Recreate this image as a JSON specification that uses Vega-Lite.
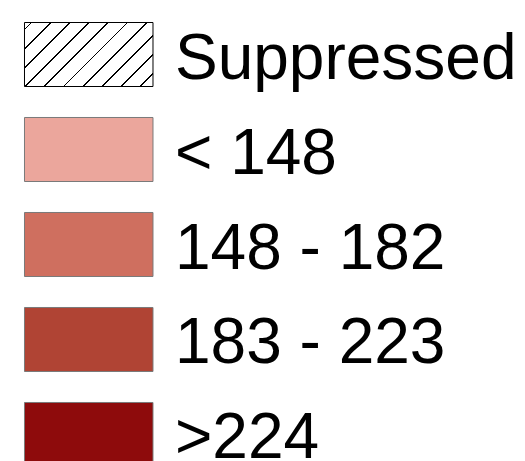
{
  "$schema": "https://vega.github.io/schema/vega-lite/v6.json",
  "width": 525,
  "height": 461,
  "autosize": {"type": "none"},
  "padding": 0,
  "background": "white",
  "config": {"view": {"stroke": null}},
  "data": {
    "values": [
      {"order": 0, "label": "Suppressed", "kind": "suppressed"},
      {"order": 1, "label": "< 148", "kind": "range"},
      {"order": 2, "label": "148 - 182", "kind": "range"},
      {"order": 3, "label": "183 - 223", "kind": "range"},
      {"order": 4, "label": ">224", "kind": "range"}
    ]
  },
  "encoding": {
    "y": {
      "field": "label",
      "type": "nominal",
      "sort": {"field": "order"},
      "axis": null,
      "scale": {"range": [22.5, 466.5], "paddingInner": 0.3263, "paddingOuter": 0}
    }
  },
  "layer": [
    {
      "transform": [{"filter": "datum.kind === 'suppressed'"}],
      "mark": {
        "type": "rect",
        "stroke": "#000000",
        "strokeWidth": 1,
        "fill": {
          "gradient": "linear",
          "x1": 0, "y1": 0, "x2": 1.2003, "y2": 0.5978,
          "stops": [
            {"offset": 0, "color": "#ffffff"},
            {"offset": 0.03143, "color": "#ffffff"}, {"offset": 0.03143, "color": "#000000"}, {"offset": 0.0413, "color": "#000000"}, {"offset": 0.0413, "color": "#ffffff"},
            {"offset": 0.13117, "color": "#ffffff"}, {"offset": 0.13117, "color": "#000000"}, {"offset": 0.14104, "color": "#000000"}, {"offset": 0.14104, "color": "#ffffff"},
            {"offset": 0.23091, "color": "#ffffff"}, {"offset": 0.23091, "color": "#000000"}, {"offset": 0.24078, "color": "#000000"}, {"offset": 0.24078, "color": "#ffffff"},
            {"offset": 0.33065, "color": "#ffffff"}, {"offset": 0.33065, "color": "#000000"}, {"offset": 0.34052, "color": "#000000"}, {"offset": 0.34052, "color": "#ffffff"},
            {"offset": 0.43039, "color": "#ffffff"}, {"offset": 0.43039, "color": "#000000"}, {"offset": 0.44026, "color": "#000000"}, {"offset": 0.44026, "color": "#ffffff"},
            {"offset": 0.53013, "color": "#ffffff"}, {"offset": 0.53013, "color": "#000000"}, {"offset": 0.54, "color": "#000000"}, {"offset": 0.54, "color": "#ffffff"},
            {"offset": 0.62987, "color": "#ffffff"}, {"offset": 0.62987, "color": "#000000"}, {"offset": 0.63974, "color": "#000000"}, {"offset": 0.63974, "color": "#ffffff"},
            {"offset": 0.72961, "color": "#ffffff"}, {"offset": 0.72961, "color": "#000000"}, {"offset": 0.73948, "color": "#000000"}, {"offset": 0.73948, "color": "#ffffff"},
            {"offset": 0.82935, "color": "#ffffff"}, {"offset": 0.82935, "color": "#000000"}, {"offset": 0.83922, "color": "#000000"}, {"offset": 0.83922, "color": "#ffffff"},
            {"offset": 0.92909, "color": "#ffffff"}, {"offset": 0.92909, "color": "#000000"}, {"offset": 0.93896, "color": "#000000"}, {"offset": 0.93896, "color": "#ffffff"},
            {"offset": 1, "color": "#ffffff"}
          ]
        }
      },
      "encoding": {
        "x": {"datum": 0, "type": "quantitative", "axis": null, "scale": {"domain": [-0.19066, 3.89494], "nice": false, "zero": false}},
        "x2": {"datum": 1}
      }
    },
    {
      "transform": [{"filter": "datum.kind === 'range'"}],
      "mark": {"type": "rect", "stroke": "#7a7a7a", "strokeWidth": 1},
      "encoding": {
        "x": {"datum": 0, "type": "quantitative", "axis": null, "scale": {"domain": [-0.19066, 3.89494], "nice": false, "zero": false}},
        "x2": {"datum": 1},
        "fill": {
          "field": "label",
          "type": "nominal",
          "legend": null,
          "scale": {
            "domain": ["< 148", "148 - 182", "183 - 223", ">224"],
            "range": ["#EBA69C", "#CF6F5F", "#B04434", "#8E0B0C"]
          }
        }
      }
    },
    {
      "mark": {
        "type": "text",
        "align": "left",
        "baseline": "alphabetic",
        "dy": 24,
        "font": "Liberation Sans",
        "fontSize": 64,
        "color": "#000000"
      },
      "encoding": {
        "x": {"datum": 1.1712, "type": "quantitative", "axis": null, "scale": {"domain": [-0.19066, 3.89494], "nice": false, "zero": false}},
        "text": {"field": "label"}
      }
    }
  ]
}
